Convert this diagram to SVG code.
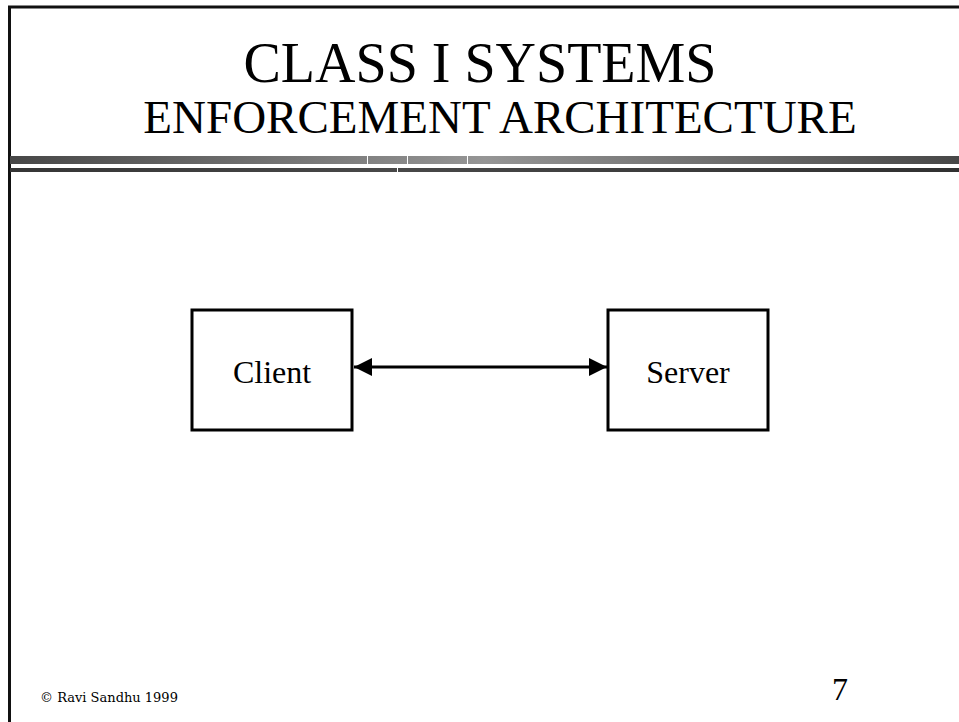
<svg xmlns="http://www.w3.org/2000/svg" width="959" height="722" viewBox="0 0 959 722">
  <style>
    .title { font-family: "Liberation Serif", "Times New Roman", serif; fill: #000; text-anchor: middle; }
    .box { fill: #fff; stroke: #000; stroke-width: 3; }
    .label { font-family: "Liberation Serif", "Times New Roman", serif; font-size: 32px; fill: #000; text-anchor: middle; }
    .edge { stroke: #000; stroke-width: 3; fill: none; }
  </style>
  <defs>
    <linearGradient id="barShade" x1="0" y1="0" x2="1" y2="0">
      <stop offset="0" stop-color="#474747"/>
      <stop offset="0.5" stop-color="#959595"/>
      <stop offset="1" stop-color="#474747"/>
    </linearGradient>
    <linearGradient id="rule" x1="0" y1="0" x2="1" y2="0">
      <stop offset="0" stop-color="#353535"/>
      <stop offset="0.4" stop-color="#484848"/>
      <stop offset="1" stop-color="#303030"/>
    </linearGradient>
    <marker id="arrowEnd" viewBox="0 0 10 10" refX="10" refY="5" markerWidth="6" markerHeight="6" markerUnits="strokeWidth" orient="auto-start-reverse">
      <path d="M0,0 L10,5 L0,10 Z" fill="#000"/>
    </marker>
  </defs>

  <rect width="959" height="722" fill="#fff"/>

  <!-- slide frame -->
  <g id="frame">
    <line x1="8" y1="7" x2="959" y2="7" stroke="#111" stroke-width="3"/>
    <line x1="9.5" y1="6" x2="9.5" y2="722" stroke="#111" stroke-width="3"/>
  </g>

  <!-- heading -->
  <g id="heading">
    <text class="title" x="480" y="82" font-size="56">CLASS I SYSTEMS</text>
    <text class="title" x="500" y="133" font-size="47">ENFORCEMENT ARCHITECTURE</text>
  </g>

  <!-- header rules -->
  <g id="rules">
    <rect x="10" y="156" width="949" height="8" fill="url(#barShade)"/>
    <rect x="367" y="156" width="1" height="8" fill="#fff"/>
    <rect x="407" y="156" width="1" height="8" fill="#fff"/>
    <rect x="467" y="156" width="1" height="8" fill="#fff"/>
    <rect x="10" y="168" width="949" height="4" fill="url(#rule)"/>
    <rect x="397" y="168" width="1" height="4" fill="#fff"/>
  </g>

  <!-- connectors -->
  <g id="connectors">
    <line class="edge" x1="354" y1="367" x2="607" y2="367" marker-start="url(#arrowEnd)" marker-end="url(#arrowEnd)"/>
  </g>

  <g id="client">
    <rect class="box" x="192" y="310" width="160" height="120"/>
    <text class="label" x="272" y="383">Client</text>
  </g>

  <g id="server">
    <rect class="box" x="608" y="310" width="160" height="120"/>
    <text class="label" x="688" y="383">Server</text>
  </g>

  <!-- footer -->
  <g id="footer">
    <text x="40" y="702" font-family="'DejaVu Serif', 'Liberation Serif', serif" font-size="13">© Ravi Sandhu 1999</text>
    <text x="840" y="700" font-family="'Liberation Serif', 'Times New Roman', serif" font-size="32" text-anchor="middle">7</text>
  </g>
</svg>
